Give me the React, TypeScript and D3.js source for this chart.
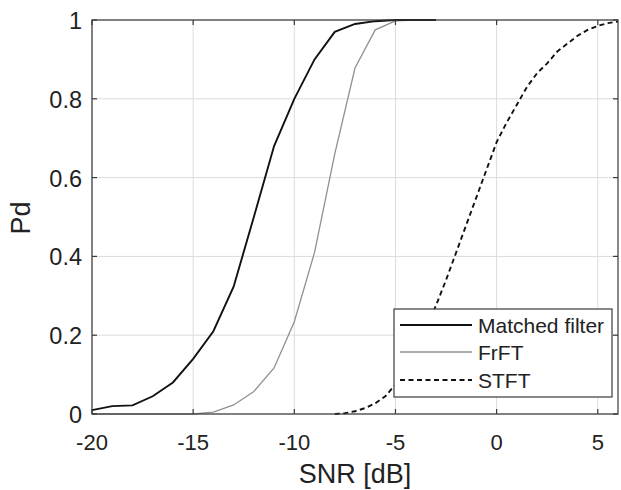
import React from "react";
import * as d3 from "d3";

const mfSnr = [-20, -19, -18, -17, -16, -15, -14, -13, -12, -11, -10, -9, -8, -7, -6, -5, -4, -3];
const mfPd = [0.01, 0.02, 0.022, 0.045, 0.08, 0.14, 0.21, 0.323, 0.5, 0.68, 0.8, 0.9, 0.97, 0.99, 0.997, 1.0, 1.0, 1.0];

const frSnr = [-20, -19, -18, -17, -16, -15, -14, -13, -12, -11, -10, -9, -8, -7, -6, -5, -4, -3];
const frPd = [0, 0, 0, 0, 0, 0, 0.005, 0.023, 0.057, 0.117, 0.234, 0.41, 0.66, 0.878, 0.975, 0.998, 1.0, 1.0];

const stSnr = [-8, -7.5, -7, -6.5, -6, -5.5, -5, -4.5, -4, -3.5, -3, -2.5, -2, -1.5, -1, -0.5, 0, 0.5, 1, 1.5, 2, 2.5, 3, 3.5, 4, 4.5, 5, 5.5, 6];
const stPd = [0, 0.002, 0.007, 0.015, 0.027, 0.045, 0.075, 0.115, 0.16, 0.215, 0.275, 0.34, 0.41, 0.48, 0.55, 0.62, 0.69, 0.74, 0.785, 0.83, 0.865, 0.89, 0.92, 0.94, 0.96, 0.975, 0.985, 0.992, 0.996];

const xTicks = [-20, -15, -10, -5, 0, 5];
const yTicks = [0, 0.2, 0.4, 0.6, 0.8, 1];
const legendLabels = ["Matched filter", "FrFT", "STFT"];

const W = 621;
const H = 490;
const L = 92, R = 618, T = 20, B = 414;

export default function App() {
  const x = d3.scaleLinear().domain([-20, 6]).range([L, R]);
  const y = d3.scaleLinear().domain([0, 1]).range([B, T]);
  const line = d3.line<[number, number]>().x(d => x(d[0])).y(d => y(d[1]));
  const mf = line(mfSnr.map((s, i) => [s, mfPd[i]]));
  const fr = line(frSnr.map((s, i) => [s, frPd[i]]));
  const st = line(stSnr.map((s, i) => [s, stPd[i]]));
  const font = "Liberation Sans, Arial, Helvetica, sans-serif";
  const axisColor = "#3a3a3a";
  const styles = [
    { stroke: "#111", width: 1.9, dash: undefined as string | undefined },
    { stroke: "#909090", width: 1.3, dash: undefined as string | undefined },
    { stroke: "#111", width: 1.9, dash: "5,3.5" },
  ];
  const lg = { x: 394, y: 309, w: 218, h: 88 };
  const rowY = [325, 352, 380];
  return (
    <svg width={W} height={H} style={{ position: "absolute", left: 0, top: 0, background: "#fff" }} fontFamily={font}>
      <rect x={0} y={0} width={W} height={H} fill="#fff" />
      {/* grid */}
      {xTicks.map(t => (
        <line key={"gx" + t} x1={x(t)} x2={x(t)} y1={T} y2={B} stroke="#dcdcdc" strokeWidth={1} />
      ))}
      {yTicks.map(t => (
        <line key={"gy" + t} x1={L} x2={R} y1={y(t)} y2={y(t)} stroke="#dcdcdc" strokeWidth={1} />
      ))}
      {/* curves */}
      <path d={fr || ""} fill="none" stroke={styles[1].stroke} strokeWidth={styles[1].width} />
      <path d={st || ""} fill="none" stroke={styles[2].stroke} strokeWidth={styles[2].width} strokeDasharray={styles[2].dash} />
      <path d={mf || ""} fill="none" stroke={styles[0].stroke} strokeWidth={styles[0].width} />
      {/* box */}
      <rect x={L} y={T} width={R - L} height={B - T} fill="none" stroke={axisColor} strokeWidth={1.2} />
      {/* ticks */}
      {xTicks.map(t => (
        <g key={"tx" + t}>
          <line x1={x(t)} x2={x(t)} y1={B} y2={B - 5} stroke={axisColor} strokeWidth={1.2} />
          <line x1={x(t)} x2={x(t)} y1={T} y2={T + 5} stroke={axisColor} strokeWidth={1.2} />
          <text x={x(t)} y={450} textAnchor="middle" fontSize={22} fill="#222">{t}</text>
        </g>
      ))}
      {yTicks.map(t => (
        <g key={"ty" + t}>
          <line x1={L} x2={L + 5} y1={y(t)} y2={y(t)} stroke={axisColor} strokeWidth={1.2} />
          <line x1={R} x2={R - 5} y1={y(t)} y2={y(t)} stroke={axisColor} strokeWidth={1.2} />
          <text x={82} y={y(t) + 9} textAnchor="end" fontSize={23.5} fill="#222">{t}</text>
        </g>
      ))}
      {/* axis labels */}
      <text x={(L + R) / 2} y={483} textAnchor="middle" fontSize={27} fill="#222">SNR [dB]</text>
      <text transform={`translate(30, ${(T + B) / 2 + 1}) rotate(-90)`} textAnchor="middle" fontSize={27} fill="#222">Pd</text>
      {/* legend */}
      <rect x={lg.x} y={lg.y} width={lg.w} height={lg.h} fill="#fff" stroke={axisColor} strokeWidth={1.2} />
      {legendLabels.map((name, i) => (
        <g key={name}>
          <line x1={400} x2={472} y1={rowY[i]} y2={rowY[i]} stroke={styles[i].stroke} strokeWidth={styles[i].width} strokeDasharray={styles[i].dash} />
          <text x={478} y={rowY[i] + 7.5} fontSize={21} fill="#222">{name}</text>
        </g>
      ))}
    </svg>
  );
}
